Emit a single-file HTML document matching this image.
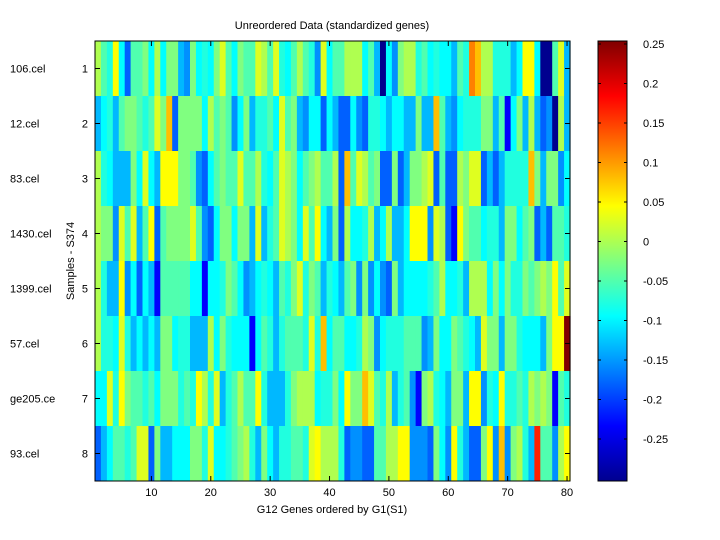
<!DOCTYPE html>
<html><head><meta charset="utf-8"><style>
body{margin:0;width:720px;height:540px;background:#fff;position:relative;overflow:hidden;font-family:"Liberation Sans",sans-serif;font-size:11px;color:#000}
.a{position:absolute;white-space:nowrap}
</style></head><body>
<svg width="720" height="540" style="position:absolute;left:0;top:0" id="s">
<defs><linearGradient id="jet" x1="0" y1="1" x2="0" y2="0">
<stop offset="0" stop-color="#00008f"/><stop offset="0.125" stop-color="#0000ff"/>
<stop offset="0.375" stop-color="#00ffff"/><stop offset="0.625" stop-color="#ffff00"/>
<stop offset="0.875" stop-color="#ff0000"/><stop offset="1" stop-color="#800000"/></linearGradient></defs>
<g id="hm"></g>
<rect x="95" y="41" width="475" height="440" fill="none" stroke="#000" stroke-width="1"/>
<rect x="598" y="41" width="29" height="440" fill="url(#jet)" stroke="#000"/>
<g id="tk" stroke="#000"></g>
<g font-family="Liberation Sans, sans-serif" font-size="11" id="tx"></g>
</svg>
<script>
var P={D:'#00008f',B:'#0000ff',b:'#0060ff',m:'#0090ff',s:'#00b8ff',c:'#00ffff',t:'#20ffdf',g:'#50ffaf',l:'#80ff80',y:'#afff50',Y:'#dfff20',Z:'#ffff00',o:'#ffbf00',O:'#ff8000',R:'#ff2000',K:'#800000'};
var R=[
"ygtZcbgglcycllsmlctc"+"lYgclggYygYtcgygtmYc"+"ggyyycgsDcmlyytgctcc"+"sgtOoyytttscZZcDDgYs",
"sctsgllgtgYlobllllcy"+"glgmclsttgcYglsmccbc"+"sbbcmbttcscc sslssogs".replace(' ','')+"mctttllsgBclsysbmDys",
"ytcssslcYcsZZZllgmbc".slice(0,20)+"glggYggytcgYylcglygg"+"ybogYyglbblbsllyYbgb"+"byl YYbsbsttttolsllmc".replace(' ',''),
"yllmYgYsgZbgllllYgmbc".slice(0,20)+"cllcllsYstgYylcYgZcs"+"lbycctyscysscZZZmYyb"+"BZlggcttsllcglbsbggt",
"ytssZmcbcsBgggggccBc"+"ctlgcmsctcsgtlYtlgst"+"csglmlmcmblscccctgyct".slice(0,20)+"ctsyyyclclttlglylZgY",
"yttcYtscscsllcttsssy"+"clticcBcgtstgggtYtoct".replace('i','c').slice(0,20)+"ggcctylmctttgggmslcc"+"lgtcsYllslltcccslZZK".slice(0,19)+"K",
"ccYtZlggtgcllltgtZyt"+"YstgyggZtssstlyyyctt".slice(0,20)+"lcZlloYgtystgmBlytcs"+"llsZZmtcZttgtylylBgt",
"bscggtgYYblssccclltYc".slice(0,20)+"cctglytslcsttggtYZyy"+"ytbmmbbggyyZZmmmblcm"+"ZtsbblZmomlytsRggmyZ"];
var h='',cw=475/80;
for(var r=0;r<8;r++){var s=R[r];for(var c=0;c<80;c++){var k=s[c]||'g';h+='<rect x="'+(95+c*cw).toFixed(2)+'" y="'+(41+r*55)+'" width="'+(cw+0.6).toFixed(2)+'" height="55" fill="'+(P[k]||P.g)+'"/>';}}
document.getElementById('hm').innerHTML=h;
var t='',x='';
for(var v=10;v<=80;v+=10){var px=95+(v-0.5)*cw;t+='<line x1="'+px+'" y1="481" x2="'+px+'" y2="476"/><line x1="'+px+'" y1="41" x2="'+px+'" y2="46"/>';x+='<text x="'+px+'" y="496" text-anchor="middle">'+v+'</text>';}
var names=["106.cel","12.cel","83.cel","1430.cel","1399.cel","57.cel","ge205.ce","93.cel"];
for(var i=0;i<8;i++){var py=41+27.5+i*55;t+='<line x1="95" y1="'+py+'" x2="100" y2="'+py+'"/><line x1="570" y1="'+py+'" x2="565" y2="'+py+'"/>';x+='<text x="88" y="'+(py+4)+'" text-anchor="end">'+(i+1)+'</text><text x="10" y="'+(py+4)+'">'+names[i]+'</text>';}
var cl=["0.25","0.2","0.15","0.1","0.05","0","-0.05","-0.1","-0.15","-0.2","-0.25"];
for(var j=0;j<11;j++){var py=44+j*39.5;t+='<line x1="598" y1="'+py+'" x2="601" y2="'+py+'"/><line x1="627" y1="'+py+'" x2="624" y2="'+py+'"/>';x+='<text x="643" y="'+(py+4)+'">'+cl[j]+'</text>';}
x+='<text x="332" y="29" text-anchor="middle">Unreordered Data (standardized genes)</text>';
x+='<text x="332" y="513" text-anchor="middle">G12 Genes ordered by G1(S1)</text>';
x+='<text transform="translate(74,261) rotate(-90)" text-anchor="middle">Samples - S374</text>';
document.getElementById('tk').innerHTML=t;document.getElementById('tx').innerHTML=x;
</script>
</body></html>
